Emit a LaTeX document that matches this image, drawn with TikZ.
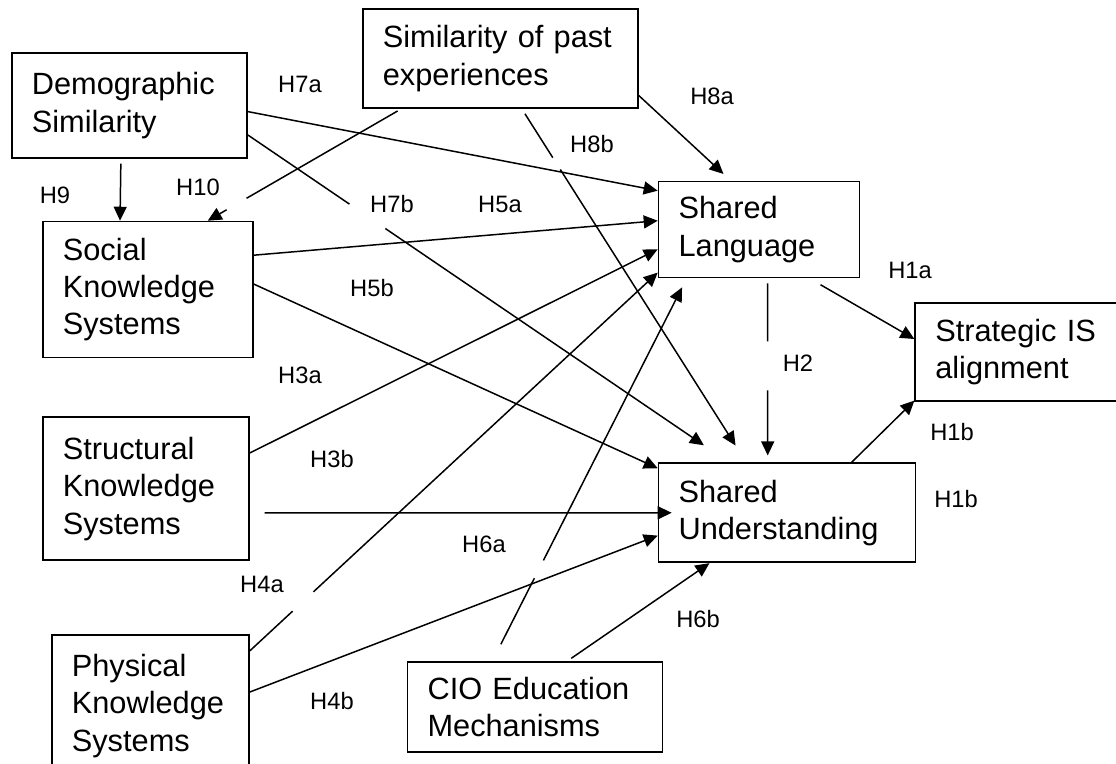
\documentclass[tikz,border=0pt]{standalone}
\usepackage{fontspec}
\setmainfont{Liberation Sans}
\usepackage{tikz}
\usetikzlibrary{arrows.meta, positioning}
\tikzset{
  >={Triangle[width=2.6mm,length=2.8mm]},
  base/.style = {rectangle, draw=black, line width=1pt,
                 align=left, inner xsep=0.4cm,
                 font=\fontsize{17.5}{21.3}\selectfont},
  construct/.style 2 args = {base, text width=#1, minimum height=#2},
  hyp/.style = {font=\fontsize{13.5}{15}\selectfont, inner sep=1pt},
  link/.style = {->, line width=0.85pt},
}
\begin{document}
\begin{tikzpicture}[x=0.02cm, y=-0.02cm]
  \useasboundingbox (0,0) rectangle (1116,764);

  % 构念节点
  \node (demo) [construct={3.9cm}{2.1cm}, anchor=north west] at (11,52) {Demographic\\Similarity};
  \node (social) [construct={3.4cm}{2.72cm}, below right=1.24cm and 0.62cm of demo.south west] {Social\\Knowledge\\Systems};
  \node (struct) [construct={3.32cm}{2.86cm}, below right=1.16cm and 0cm of social.south west] {Structural\\Knowledge\\Systems};
  \node (phys) [construct={3.14cm}{2.84cm}, below right=1.46cm and 0.18cm of struct.south west] {Physical\\Knowledge\\Systems};
  \node (past) [construct={4.7cm}{1.98cm}, anchor=north west] at (362,8) {Similarity of past\\experiences};
  \node (cio) [construct={4.3cm}{1.8cm}, below right=0.54cm and 3.14cm of phys.north east] {CIO Education\\Mechanisms};
  \node (lang) [construct={3.22cm}{1.92cm}, below right=1.44cm and 0.38cm of past.south east] {Shared\\Language};
  \node (under) [construct={4.34cm}{1.98cm}, below right=3.68cm and 0cm of lang.south west] {Shared\\Understanding};
  \node (strat) [construct={3.5cm}{1.96cm}, below right=0.48cm and 1.08cm of lang.south east] {Strategic IS\\alignment};

  % 假设路径
  \draw[link, shorten <=0.1cm] (demo.-99) -- (social.112);
  \draw[link, shorten <=0.09cm, dash pattern=on 3.49cm off 0.46cm on 20cm] (past.-153) -- (social.49);
  \draw[link] (demo.-3) -- (lang.159);
  \draw[link, shorten >=0.61cm, dash pattern=on 2.46cm off 0.87cm on 20cm] (demo.-14) -- (under.139);
  \draw[link, shorten >=0.2cm] (past.-15) -- (lang.120);
  \draw[link, shorten <=0.12cm, shorten >=0.4cm, dash pattern=on 1.04cm off 0.28cm on 20cm] (past.-67) -- (under.129);
  \draw[link] (social.18) -- (lang.175);
  \draw[link] (social.3) -- (under.161);
  \draw[link] (struct.19) -- (lang.191);
  \draw[link, shorten <=0.3cm, shorten >=-0.28cm] (struct.-13) -- (under.west);
  \draw[link, dash pattern=on 1.17cm off 0.57cm on 20cm] (phys.29) -- (lang.203);
  \draw[link] (phys.8) -- (under.190);
  \draw[link, shorten <=0.38cm, shorten >=0.2cm, dash pattern=on 1.48cm off 0.4cm on 20cm] (cio.133) -- (lang.-146);
  \draw[link, shorten <=0.1cm] (cio.55) -- (under.-147);
  \draw[link, shorten <=0.1cm, shorten >=0.14cm, dash pattern=on 1.16cm off 0.98cm on 20cm] (lang.-80) -- (under.111);
  \draw[link, shorten <=0.25cm] (lang.-44) -- (strat.173);
  \draw[link] (under.38) -- (strat.-156);

  % 假设编号
  \node (h9) [hyp] at (55,195) {H9};
  \node (h10) [hyp] at (198,187) {H10};
  \node (h7a) [hyp] at (300,84) {H7a};
  \node (h7b) [hyp] at (392,204) {H7b};
  \node (h5a) [hyp] at (500,204) {H5a};
  \node (h5b) [hyp] at (372,288) {H5b};
  \node (h8a) [hyp] at (712,96) {H8a};
  \node (h8b) [hyp] at (592,144) {H8b};
  \node (h3a) [hyp] at (300,375) {H3a};
  \node (h3b) [hyp] at (332,459) {H3b};
  \node (h4a) [hyp] at (262,584) {H4a};
  \node (h4b) [hyp] at (332,701) {H4b};
  \node (h6a) [hyp] at (484,544) {H6a};
  \node (h6b) [hyp] at (698,619) {H6b};
  \node (h2) [hyp] at (798,363) {H2};
  \node (h1a) [hyp] at (910,270) {H1a};
  \node (h1b) [hyp] at (952,432) {H1b};
  \node (h1c) [hyp] at (956,499) {H1b};
\end{tikzpicture}
\end{document}
